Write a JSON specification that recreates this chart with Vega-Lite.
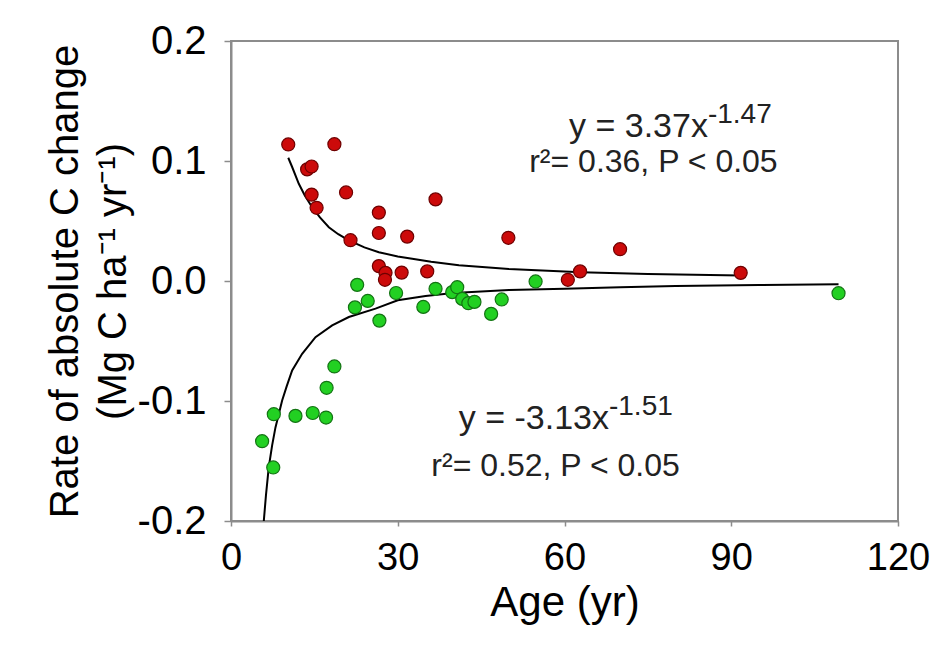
{
  "$schema": "https://vega.github.io/schema/vega-lite/v6.json",
  "width": 667,
  "height": 480,
  "autosize": {"type": "none"},
  "padding": {"left": 231, "top": 41, "right": 42, "bottom": 131},
  "background": "white",
  "config": {
    "font": "Liberation Sans",
    "view": {"stroke": "#8c8c8c", "strokeWidth": 2},
    "axis": {"grid": false, "domainColor": "#8c8c8c", "domainWidth": 2, "tickColor": "#8c8c8c", "tickWidth": 1.5, "labelColor": "black", "titleColor": "black", "labelFont": "Liberation Sans", "titleFont": "Liberation Sans", "titleFontWeight": "normal"}
  },
  "datasets": {
    "pts": [
      {"age": 10.3, "rate": 0.1138, "grp": "gain"},
      {"age": 18.6, "rate": 0.114, "grp": "gain"},
      {"age": 13.7, "rate": 0.093, "grp": "gain"},
      {"age": 14.5, "rate": 0.0954, "grp": "gain"},
      {"age": 14.5, "rate": 0.072, "grp": "gain"},
      {"age": 15.4, "rate": 0.061, "grp": "gain"},
      {"age": 20.7, "rate": 0.0738, "grp": "gain"},
      {"age": 36.8, "rate": 0.068, "grp": "gain"},
      {"age": 26.6, "rate": 0.057, "grp": "gain"},
      {"age": 26.6, "rate": 0.04, "grp": "gain"},
      {"age": 31.7, "rate": 0.037, "grp": "gain"},
      {"age": 21.5, "rate": 0.034, "grp": "gain"},
      {"age": 26.6, "rate": 0.0124, "grp": "gain"},
      {"age": 27.8, "rate": 0.0068, "grp": "gain"},
      {"age": 27.7, "rate": 0.001, "grp": "gain"},
      {"age": 30.7, "rate": 0.007, "grp": "gain"},
      {"age": 35.3, "rate": 0.008, "grp": "gain"},
      {"age": 49.9, "rate": 0.036, "grp": "gain"},
      {"age": 70.0, "rate": 0.0265, "grp": "gain"},
      {"age": 62.8, "rate": 0.008, "grp": "gain"},
      {"age": 60.6, "rate": 0.001, "grp": "gain"},
      {"age": 91.7, "rate": 0.0068, "grp": "gain"},
      {"age": 22.7, "rate": -0.0032, "grp": "loss"},
      {"age": 22.3, "rate": -0.022, "grp": "loss"},
      {"age": 24.6, "rate": -0.0166, "grp": "loss"},
      {"age": 26.7, "rate": -0.033, "grp": "loss"},
      {"age": 29.7, "rate": -0.01, "grp": "loss"},
      {"age": 34.6, "rate": -0.0216, "grp": "loss"},
      {"age": 36.8, "rate": -0.0065, "grp": "loss"},
      {"age": 39.8, "rate": -0.0093, "grp": "loss"},
      {"age": 40.7, "rate": -0.0052, "grp": "loss"},
      {"age": 41.6, "rate": -0.0149, "grp": "loss"},
      {"age": 42.7, "rate": -0.0185, "grp": "loss"},
      {"age": 43.8, "rate": -0.0174, "grp": "loss"},
      {"age": 46.8, "rate": -0.0274, "grp": "loss"},
      {"age": 48.7, "rate": -0.0154, "grp": "loss"},
      {"age": 54.8, "rate": -0.0004, "grp": "loss"},
      {"age": 109.3, "rate": -0.0102, "grp": "loss"},
      {"age": 18.6, "rate": -0.0712, "grp": "loss"},
      {"age": 17.2, "rate": -0.089, "grp": "loss"},
      {"age": 7.7, "rate": -0.111, "grp": "loss"},
      {"age": 11.6, "rate": -0.1124, "grp": "loss"},
      {"age": 14.7, "rate": -0.11, "grp": "loss"},
      {"age": 17.1, "rate": -0.1138, "grp": "loss"},
      {"age": 5.6, "rate": -0.1335, "grp": "loss"},
      {"age": 7.6, "rate": -0.1554, "grp": "loss"}
    ],
    "fits": [
      {"age": 10.3, "rate": 0.1027, "grp": "gain"},
      {"age": 11.0, "rate": 0.095, "grp": "gain"},
      {"age": 12.2, "rate": 0.081, "grp": "gain"},
      {"age": 13.3, "rate": 0.071, "grp": "gain"},
      {"age": 14.6, "rate": 0.0615, "grp": "gain"},
      {"age": 16.0, "rate": 0.053, "grp": "gain"},
      {"age": 17.6, "rate": 0.0448, "grp": "gain"},
      {"age": 19.3, "rate": 0.039, "grp": "gain"},
      {"age": 21.2, "rate": 0.0338, "grp": "gain"},
      {"age": 24.0, "rate": 0.028, "grp": "gain"},
      {"age": 26.6, "rate": 0.024, "grp": "gain"},
      {"age": 30.0, "rate": 0.0205, "grp": "gain"},
      {"age": 32.6, "rate": 0.0185, "grp": "gain"},
      {"age": 36.0, "rate": 0.016, "grp": "gain"},
      {"age": 41.0, "rate": 0.0132, "grp": "gain"},
      {"age": 50.0, "rate": 0.01, "grp": "gain"},
      {"age": 63.0, "rate": 0.0073, "grp": "gain"},
      {"age": 75.0, "rate": 0.0058, "grp": "gain"},
      {"age": 91.7, "rate": 0.0046, "grp": "gain"},
      {"age": 5.9, "rate": -0.2, "grp": "loss"},
      {"age": 6.3, "rate": -0.178, "grp": "loss"},
      {"age": 6.8, "rate": -0.155, "grp": "loss"},
      {"age": 7.4, "rate": -0.137, "grp": "loss"},
      {"age": 8.0, "rate": -0.122, "grp": "loss"},
      {"age": 9.2, "rate": -0.0996, "grp": "loss"},
      {"age": 10.0, "rate": -0.088, "grp": "loss"},
      {"age": 11.0, "rate": -0.0746, "grp": "loss"},
      {"age": 12.8, "rate": -0.0607, "grp": "loss"},
      {"age": 15.2, "rate": -0.0468, "grp": "loss"},
      {"age": 18.2, "rate": -0.037, "grp": "loss"},
      {"age": 21.2, "rate": -0.03, "grp": "loss"},
      {"age": 26.0, "rate": -0.023, "grp": "loss"},
      {"age": 30.0, "rate": -0.016, "grp": "loss"},
      {"age": 35.0, "rate": -0.0125, "grp": "loss"},
      {"age": 40.0, "rate": -0.01, "grp": "loss"},
      {"age": 50.0, "rate": -0.0075, "grp": "loss"},
      {"age": 60.0, "rate": -0.0065, "grp": "loss"},
      {"age": 70.0, "rate": -0.0052, "grp": "loss"},
      {"age": 80.0, "rate": -0.0042, "grp": "loss"},
      {"age": 95.0, "rate": -0.0033, "grp": "loss"},
      {"age": 109.3, "rate": -0.0027, "grp": "loss"}
    ],
    "notes": [
      {"age": 85.8, "rate": 0.128, "text": "y = 3.37x", "kind": "base"},
      {"age": 85.8, "rate": 0.128, "text": "-1.47", "kind": "exp"},
      {"age": 76.0, "rate": 0.099, "text": "r²= 0.36, P < 0.05", "kind": "line2"},
      {"age": 68.0, "rate": -0.115, "text": "y = -3.13x", "kind": "base"},
      {"age": 68.0, "rate": -0.115, "text": "-1.51", "kind": "exp"},
      {"age": 58.4, "rate": -0.154, "text": "r²= 0.52, P < 0.05", "kind": "line2"}
    ]
  },
  "layer": [
    {
      "data": {"name": "fits"},
      "mark": {"type": "line", "color": "black", "strokeWidth": 2, "clip": true},
      "encoding": {
        "x": {"field": "age", "type": "quantitative", "scale": {"domain": [0, 120], "nice": false},
          "axis": {"values": [0, 30, 60, 90, 120], "title": "Age (yr)", "labelFontSize": 38, "labelFlush": false, "titleFontSize": 42, "tickSize": 5, "labelPadding": 13, "titlePadding": 5}},
        "y": {"field": "rate", "type": "quantitative", "scale": {"domain": [-0.2, 0.2], "nice": false},
          "axis": {"values": [-0.2, -0.1, 0, 0.1, 0.2], "format": ".1f", "labelExpr": "replace(datum.label, '\u2212', '-')", "title": ["Rate of absolute C change", "(Mg C ha\u207b\u00b9 yr\u207b\u00b9)"], "labelFontSize": 40, "labelFlush": false, "titleFontSize": 40, "titleLineHeight": 48, "tickSize": 7, "labelPadding": 18, "titlePadding": 4}},
        "detail": {"field": "grp"}
      }
    },
    {
      "data": {"name": "pts"},
      "mark": {"type": "circle", "size": 170, "opacity": 1, "strokeWidth": 1.2},
      "encoding": {
        "x": {"field": "age", "type": "quantitative"},
        "y": {"field": "rate", "type": "quantitative"},
        "fill": {"field": "grp", "type": "nominal", "scale": {"domain": ["gain", "loss"], "range": ["#cc0a0a", "#22d022"]}, "legend": null},
        "stroke": {"field": "grp", "type": "nominal", "scale": {"domain": ["gain", "loss"], "range": ["#6e0000", "#137313"]}, "legend": null}
      }
    },
    {
      "data": {"name": "notes"},
      "transform": [{"filter": "datum.kind === 'base'"}],
      "mark": {"type": "text", "align": "right", "baseline": "middle", "fontSize": 34, "font": "Liberation Sans", "color": "#222"},
      "encoding": {
        "x": {"field": "age", "type": "quantitative"},
        "y": {"field": "rate", "type": "quantitative"},
        "text": {"field": "text"}
      }
    },
    {
      "data": {"name": "notes"},
      "transform": [{"filter": "datum.kind === 'exp'"}],
      "mark": {"type": "text", "align": "left", "baseline": "middle", "fontSize": 28, "dy": -12, "font": "Liberation Sans", "color": "#222"},
      "encoding": {
        "x": {"field": "age", "type": "quantitative"},
        "y": {"field": "rate", "type": "quantitative"},
        "text": {"field": "text"}
      }
    },
    {
      "data": {"name": "notes"},
      "transform": [{"filter": "datum.kind === 'line2'"}],
      "mark": {"type": "text", "align": "center", "baseline": "middle", "fontSize": 32, "font": "Liberation Sans", "color": "#222"},
      "encoding": {
        "x": {"field": "age", "type": "quantitative"},
        "y": {"field": "rate", "type": "quantitative"},
        "text": {"field": "text"}
      }
    }
  ]
}
